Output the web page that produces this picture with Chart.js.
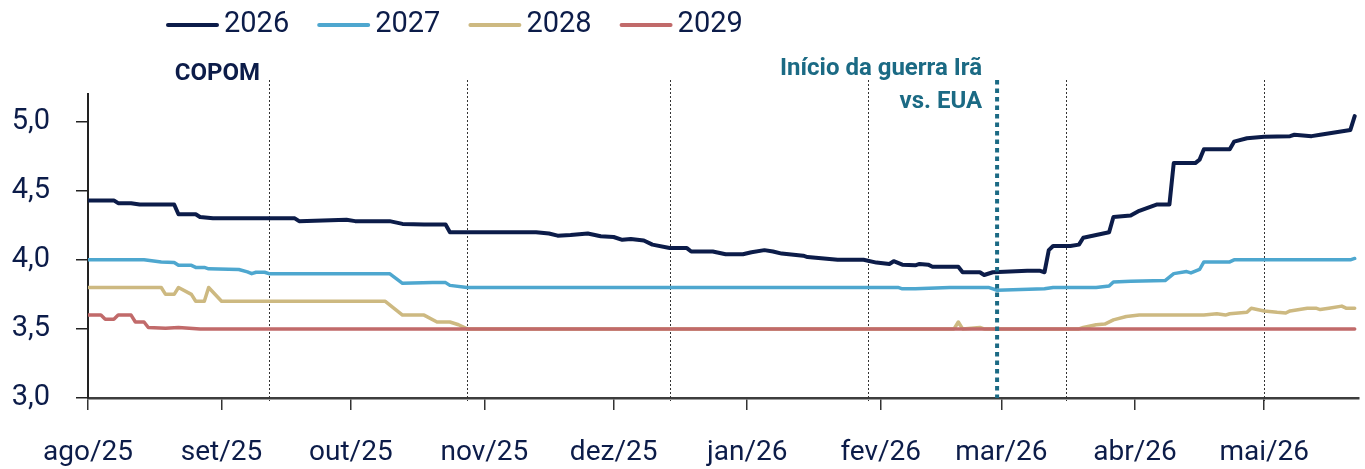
<!DOCTYPE html>
<html><head><meta charset="utf-8">
<script src="https://cdn.jsdelivr.net/npm/chart.js@4/dist/chart.umd.min.js"></script>
<style>html,body{margin:0;padding:0;background:#fff;overflow:hidden}canvas{display:block}</style>
</head><body>
<canvas id="c" width="1365" height="469"></canvas>
<script>
// ---- axis / labels ----
const axisStart = '2025-08-01';
const axisEnd = '2026-05-23';
const monthTicks = ['2025-08-01','2025-09-01','2025-10-01','2025-11-01','2025-12-01','2026-01-01','2026-02-01','2026-03-01','2026-04-01','2026-05-01'];
const monthLabels = ['ago/25','set/25','out/25','nov/25','dez/25','jan/26','fev/26','mar/26','abr/26','mai/26'];
const yTicks = [3.0, 3.5, 4.0, 4.5, 5.0];
const yMin = 3.0, yMax = 5.2;
const copomDates = ['2025-09-12','2025-10-28','2025-12-14','2026-01-29','2026-03-16','2026-05-01'];
const warDate = '2026-02-28';
const copomLabel = 'COPOM';
const warLabel = ['Início da guerra Irã', 'vs. EUA'];
const seriesNames = ['2026','2027','2028','2029'];

// ---- series ----
const dates2026 = ['2025-08-01','2025-08-07','2025-08-08','2025-08-11','2025-08-13','2025-08-21','2025-08-22','2025-08-26','2025-08-27','2025-08-30','2025-09-18','2025-09-19','2025-09-30','2025-10-02','2025-10-10','2025-10-13','2025-10-18','2025-10-23','2025-10-24','2025-11-13','2025-11-16','2025-11-18','2025-11-21','2025-11-25','2025-11-28','2025-12-01','2025-12-03','2025-12-05','2025-12-08','2025-12-10','2025-12-14','2025-12-18','2025-12-19','2025-12-24','2025-12-27','2025-12-31','2026-01-02','2026-01-05','2026-01-07','2026-01-09','2026-01-14','2026-01-15','2026-01-22','2026-01-28','2026-01-31','2026-02-03','2026-02-04','2026-02-06','2026-02-09','2026-02-10','2026-02-12','2026-02-13','2026-02-19','2026-02-20','2026-02-24','2026-02-25','2026-02-27','2026-03-07','2026-03-10','2026-03-11','2026-03-12','2026-03-13','2026-03-17','2026-03-19','2026-03-20','2026-03-23','2026-03-26','2026-03-27','2026-03-31','2026-04-02','2026-04-06','2026-04-09','2026-04-10','2026-04-15','2026-04-16','2026-04-17','2026-04-23','2026-04-24','2026-04-27','2026-05-01','2026-05-07','2026-05-08','2026-05-12','2026-05-14','2026-05-21','2026-05-22'];
const values2026 = [4.43,4.43,4.41,4.41,4.40,4.40,4.33,4.33,4.31,4.30,4.30,4.28,4.29,4.28,4.28,4.26,4.255,4.255,4.20,4.20,4.19,4.175,4.18,4.19,4.17,4.165,4.145,4.15,4.14,4.11,4.085,4.085,4.06,4.06,4.04,4.04,4.055,4.07,4.06,4.045,4.03,4.02,4.00,4.00,3.98,3.97,3.99,3.965,3.96,3.97,3.965,3.95,3.95,3.91,3.91,3.89,3.91,3.92,3.92,3.91,4.07,4.10,4.10,4.11,4.16,4.18,4.20,4.31,4.32,4.355,4.40,4.40,4.70,4.70,4.725,4.80,4.80,4.855,4.88,4.89,4.895,4.905,4.895,4.905,4.94,5.04];

const dates2027 = ['2025-08-01','2025-08-14','2025-08-18','2025-08-21','2025-08-22','2025-08-25','2025-08-26','2025-08-28','2025-08-29','2025-09-05','2025-09-07','2025-09-08','2025-09-09','2025-09-11','2025-09-12','2025-10-10','2025-10-13','2025-10-20','2025-10-23','2025-10-24','2025-10-28','2026-02-05','2026-02-06','2026-02-09','2026-02-17','2026-02-26','2026-02-28','2026-03-11','2026-03-13','2026-03-23','2026-03-26','2026-03-27','2026-03-31','2026-04-08','2026-04-10','2026-04-13','2026-04-14','2026-04-16','2026-04-17','2026-04-23','2026-04-24','2026-05-21','2026-05-22'];
const values2027 = [4.00,4.00,3.985,3.98,3.96,3.96,3.945,3.945,3.935,3.93,3.913,3.90,3.91,3.91,3.90,3.90,3.83,3.835,3.835,3.815,3.80,3.80,3.79,3.79,3.80,3.80,3.78,3.79,3.80,3.80,3.81,3.84,3.845,3.85,3.90,3.915,3.905,3.93,3.985,3.985,4.00,4.00,4.01];

const dates2028 = ['2025-08-01','2025-08-18','2025-08-19','2025-08-21','2025-08-22','2025-08-25','2025-08-26','2025-08-28','2025-08-29','2025-09-01','2025-10-09','2025-10-13','2025-10-18','2025-10-21','2025-10-24','2025-10-26','2025-10-28','2026-02-18','2026-02-19','2026-02-20','2026-02-24','2026-02-25','2026-03-19','2026-03-20','2026-03-23','2026-03-25','2026-03-27','2026-03-30','2026-04-02','2026-04-17','2026-04-20','2026-04-22','2026-04-23','2026-04-27','2026-04-28','2026-05-01','2026-05-04','2026-05-06','2026-05-07','2026-05-11','2026-05-13','2026-05-14','2026-05-16','2026-05-19','2026-05-20','2026-05-22'];
const values2028 = [3.80,3.80,3.75,3.75,3.80,3.75,3.70,3.70,3.80,3.70,3.70,3.60,3.60,3.55,3.55,3.53,3.50,3.50,3.55,3.50,3.51,3.50,3.50,3.51,3.53,3.535,3.565,3.59,3.60,3.60,3.61,3.60,3.61,3.62,3.65,3.63,3.62,3.615,3.63,3.65,3.65,3.64,3.65,3.665,3.65,3.65];

const dates2029 = ['2025-08-01','2025-08-04','2025-08-05','2025-08-07','2025-08-08','2025-08-11','2025-08-12','2025-08-14','2025-08-15','2025-08-19','2025-08-22','2025-08-27','2026-05-22'];
const values2029 = [3.60,3.60,3.57,3.57,3.60,3.60,3.55,3.55,3.51,3.505,3.51,3.50,3.50];

// ---- styles ----
const NAVY = '#0c1c49';
const TEAL = '#1b6a84';
const FONT = 'Roboto, "DejaVu Sans", sans-serif';

const day0 = Date.UTC(2025, 7, 1);
function toDay(s) { const p = s.split('-').map(Number); return (Date.UTC(p[0], p[1]-1, p[2]) - day0) / 864e5; }
function pts(ds, vs) { return ds.map((d, i) => ({x: toDay(d), y: vs[i]})); }

const datasets = [
  {label: seriesNames[0], data: pts(dates2026, values2026), borderColor: NAVY, borderWidth: 4, order: 0},
  {label: seriesNames[1], data: pts(dates2027, values2027), borderColor: '#4ea7cf', borderWidth: 3.5, order: 1},
  {label: seriesNames[2], data: pts(dates2028, values2028), borderColor: '#cdb981', borderWidth: 3.5, order: 3},
  {label: seriesNames[3], data: pts(dates2029, values2029), borderColor: '#c16a6a', borderWidth: 3.5, order: 2}
].map(d => Object.assign(d, {pointRadius: 0, tension: 0, fill: false, borderJoinStyle: 'round', borderCapStyle: 'round'}));

const annot = {
  id: 'annot',
  beforeDatasetsDraw(chart) {
    const ctx = chart.ctx, xs = chart.scales.x;
    ctx.save();
    ctx.strokeStyle = '#333';
    ctx.lineWidth = 1;
    ctx.setLineDash([2, 2]);
    copomDates.forEach(d => {
      const x = Math.round(xs.getPixelForValue(toDay(d))) + 0.5;
      ctx.beginPath(); ctx.moveTo(x, 80); ctx.lineTo(x, 401); ctx.stroke();
    });
    ctx.restore();
  },
  afterDatasetsDraw(chart) {
    const ctx = chart.ctx, xs = chart.scales.x;
    ctx.save();
    const wx = xs.getPixelForValue(toDay(warDate));
    ctx.strokeStyle = TEAL;
    ctx.lineWidth = 4;
    ctx.setLineDash([4.5, 4]);
    ctx.beginPath(); ctx.moveTo(wx, 80); ctx.lineTo(wx, 398); ctx.stroke();
    ctx.setLineDash([]);
    ctx.font = 'bold 24px ' + FONT;
    ctx.textBaseline = 'alphabetic';
    ctx.textAlign = 'right';
    ctx.fillStyle = TEAL;
    ctx.fillText(warLabel[0], wx - 15, 75);
    ctx.fillText(warLabel[1], wx - 15, 108);
    const cx = xs.getPixelForValue(toDay(copomDates[0]));
    ctx.fillStyle = NAVY;
    ctx.fillText(copomLabel, cx - 9, 80);
    // legend
    ctx.font = '29px ' + FONT;
    ctx.textAlign = 'left';
    ctx.textBaseline = 'middle';
    let x = 166;
    chart.data.datasets.forEach(ds => {
      ctx.strokeStyle = ds.borderColor;
      ctx.lineWidth = 4;
      ctx.lineCap = 'round';
      ctx.beginPath(); ctx.moveTo(x + 2, 25); ctx.lineTo(x + 51, 25); ctx.stroke();
      ctx.fillStyle = NAVY;
      ctx.fillText(ds.label, x + 58, 25);
      x += 58 + ctx.measureText(ds.label).width + 28;
    });
    ctx.restore();
  }
};

new Chart(document.getElementById('c'), {
  type: 'line',
  data: {datasets},
  plugins: [annot],
  options: {
    responsive: false, animation: false, devicePixelRatio: 1,
    layout: {padding: {top: 94, right: 6, left: 0, bottom: 0}},
    plugins: {legend: {display: false}, tooltip: {enabled: false}},
    scales: {
      x: {
        type: 'linear', min: toDay(axisStart), max: toDay(axisEnd),
        afterBuildTicks: s => { s.ticks = monthTicks.map(d => ({value: toDay(d)})); },
        afterFit: s => { s.height = 71; },
        ticks: {
          autoSkip: false, maxRotation: 0, padding: 26, color: NAVY,
          font: {family: FONT, size: 28},
          callback: (v, i) => monthLabels[i]
        },
        grid: {drawOnChartArea: false, drawTicks: true, tickLength: 12, color: '#333', lineWidth: 1.5},
        border: {display: true, color: '#3d3d3d', width: 2.5}
      },
      y: {
        min: yMin, max: yMax,
        afterBuildTicks: s => { s.ticks = yTicks.map(v => ({value: v})); },
        afterFit: s => { s.width = 88; },
        ticks: {
          padding: 26, color: NAVY, font: {family: FONT, size: 29},
          callback: v => v.toFixed(1).replace('.', ',')
        },
        grid: {drawOnChartArea: false, drawTicks: true, tickLength: 12, color: '#222', lineWidth: 1.5},
        border: {display: true, color: '#222', width: 2}
      }
    }
  }
});
</script>
</body></html>
